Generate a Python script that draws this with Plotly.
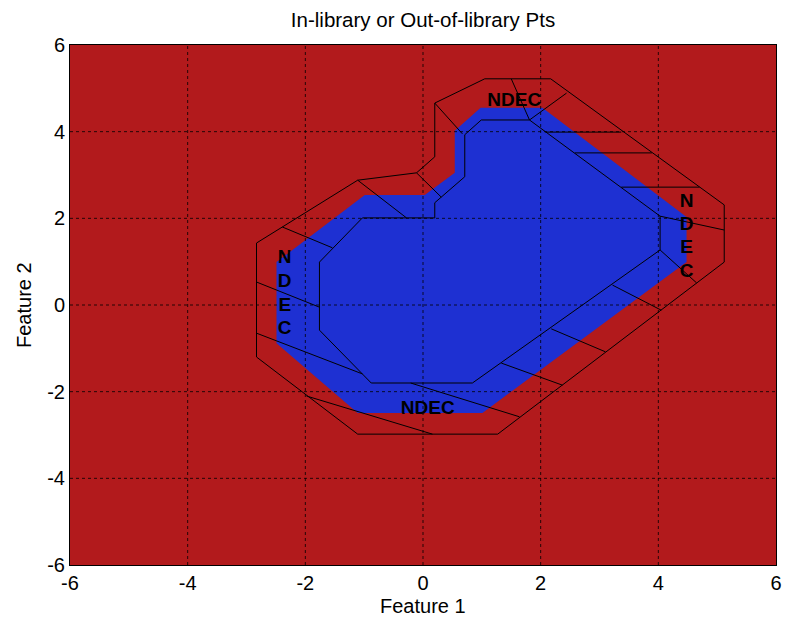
import plotly.graph_objects as go

# ---- data ----
x_ticks = [-6, -4, -2, 0, 2, 4, 6]
y_ticks = [-6, -4, -2, 0, 2, 4, 6]
tick_labels = ["-6", "-4", "-2", "0", "2", "4", "6"]

# in-library (blue) region boundary
inlib_x = [0.98, 2.03, 4.48, 4.48, 1.01, -1.11, -2.49, -2.49, -0.99, 0.03, 0.54, 0.54]
inlib_y = [4.55, 4.55, 2.03, 0.99, -2.49, -2.49, -0.88, 0.99, 2.54, 2.54, 3.05, 4.02]

# outer NDEC boundary
outer_x = [-2.83, -1.11, -0.11, 0.20, 0.20, 1.05, 2.17, 5.12, 5.12, 1.27, -1.11, -2.83]
outer_y = [1.43, 2.88, 3.05, 3.42, 4.66, 5.22, 5.22, 2.31, 0.99, -2.98, -2.98, -1.20]

# inner boundary
inner_x = [-1.03, 0.20, 0.20, 0.71, 0.71, 0.99, 1.81, 4.03, 4.03, 0.84, -0.88, -1.76, -1.76]
inner_y = [2.01, 2.01, 2.36, 2.96, 3.93, 4.27, 4.27, 2.05, 1.27, -1.80, -1.80, -0.58, 0.99]

# connector segments (start -> end)
conn_x0 = [0.20, -1.11, -0.11, -2.39, 1.50, 2.44, 2.08, 2.58, 3.37, 4.03, 4.03, 3.22, 2.18, 1.33, -0.21, -1.98, -2.83, -2.83]
conn_y0 = [4.66, 2.88, 3.05, 1.80, 5.22, 4.89, 3.99, 3.51, 2.72, 2.05, 1.27, 0.46, -0.55, -1.34, -1.80, -2.10, -0.65, 0.53]
conn_x1 = [0.67, -0.28, 0.31, -1.54, 1.81, 1.81, 3.37, 3.89, 4.70, 5.12, 4.65, 4.05, 3.10, 2.37, 1.64, 0.16, -1.03, -1.76]
conn_y1 = [3.95, 2.01, 2.49, 1.32, 4.27, 4.27, 3.99, 3.51, 2.72, 1.73, 0.51, -0.12, -1.08, -1.85, -2.58, -2.98, -1.59, -0.05]

# NDEC labels
lab_text = ["NDEC", "NDEC", "N", "D", "E", "C", "N", "D", "E", "C"]
lab_x = [1.55, 0.08, -2.35, -2.35, -2.35, -2.35, 4.48, 4.48, 4.48, 4.48]
lab_y = [4.71, -2.40, 1.08, 0.53, -0.02, -0.55, 2.38, 1.85, 1.32, 0.76]

RED = "rgb(178,26,28)"
BLUE = "rgb(30,48,210)"
FONT = "Liberation Sans, Arial, sans-serif"

fig = go.Figure()

fig.add_trace(go.Scatter(x=inlib_x + [inlib_x[0]], y=inlib_y + [inlib_y[0]],
                         fill="toself", fillcolor=BLUE, mode="lines",
                         line=dict(width=0, color=BLUE), hoverinfo="skip"))

# dashed grid drawn above the fills
gx, gy = [], []
for t in x_ticks[1:-1]:
    gx += [t, t, None]
    gy += [y_ticks[0], y_ticks[-1], None]
for t in y_ticks[1:-1]:
    gx += [x_ticks[0], x_ticks[-1], None]
    gy += [t, t, None]
fig.add_trace(go.Scatter(x=gx, y=gy, mode="lines",
                         line=dict(color="black", width=0.8, dash="3px,3px"),
                         hoverinfo="skip"))

fig.add_trace(go.Scatter(x=outer_x + [outer_x[0]], y=outer_y + [outer_y[0]], mode="lines",
                         line=dict(color="black", width=1), hoverinfo="skip"))
fig.add_trace(go.Scatter(x=inner_x + [inner_x[0]], y=inner_y + [inner_y[0]], mode="lines",
                         line=dict(color="black", width=1), hoverinfo="skip"))

cx, cy = [], []
for a, b, c, d in zip(conn_x0, conn_y0, conn_x1, conn_y1):
    cx += [a, c, None]
    cy += [b, d, None]
fig.add_trace(go.Scatter(x=cx, y=cy, mode="lines",
                         line=dict(color="black", width=1), hoverinfo="skip"))

fig.add_trace(go.Scatter(x=lab_x, y=lab_y, text=lab_text, mode="text",
                         textfont=dict(family=FONT, size=19, color="black", weight="bold"),
                         hoverinfo="skip"))

axis_common = dict(range=[-6, 6], showgrid=False, zeroline=False, showline=True,
                   linecolor="black", linewidth=1, mirror=True, ticks="",
                   automargin=False,
                   tickfont=dict(family=FONT, size=20, color="black"))

W, H = 786, 621
fig.update_layout(
    width=W, height=H, autosize=False,
    margin=dict(l=70, r=10, t=45, b=56),
    paper_bgcolor="white", plot_bgcolor=RED,
    showlegend=False,
    title=dict(text="In-library or Out-of-library Pts", x=0.5, xanchor="center",
               xref="paper", y=1 - 20 / H, yref="container", yanchor="middle",
               font=dict(family=FONT, size=20.5, color="black"),
               automargin=False),
    xaxis=dict(axis_common, tickvals=x_ticks, ticktext=tick_labels),
    yaxis=dict(axis_common, tickvals=y_ticks, ticktext=tick_labels),
    annotations=[
        dict(text="Feature 1", x=0.5, y=-41 / 520, xref="paper", yref="paper",
             showarrow=False, xanchor="center", yanchor="middle",
             font=dict(family=FONT, size=20, color="black")),
        dict(text="Feature 2", x=-46 / 706, y=0.5, xref="paper", yref="paper",
             showarrow=False, xanchor="center", yanchor="middle", textangle=-90,
             font=dict(family=FONT, size=20, color="black")),
    ],
)

# remove the default page margin so the figure fills the 786x621 window exactly
post = (
    "document.body.style.margin='0';"
    "document.body.style.overflow='hidden';"
    "var gd=document.getElementById('{plot_id}');"
    "gd.style.width='786px';gd.style.height='621px';"
    "Plotly.relayout(gd,{width:786,height:621});"
)

fig.write_html("out.html", post_script=post,
               config={"responsive": False, "displayModeBar": False})
